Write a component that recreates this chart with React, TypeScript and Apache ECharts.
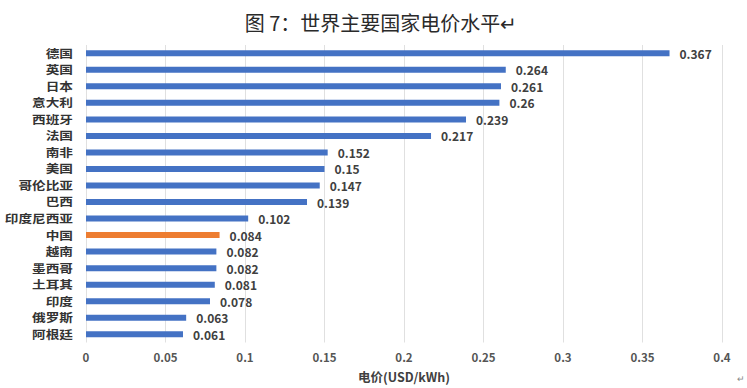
import React, { useEffect, useRef } from "react";
import * as echarts from "echarts";

const categories = ["德国", "英国", "日本", "意大利", "西班牙", "法国", "南非", "美国", "哥伦比亚", "巴西", "印度尼西亚", "中国", "越南", "墨西哥", "土耳其", "印度", "俄罗斯", "阿根廷"];
const values = [0.367, 0.264, 0.261, 0.26, 0.239, 0.217, 0.152, 0.15, 0.147, 0.139, 0.102, 0.084, 0.082, 0.082, 0.081, 0.078, 0.063, 0.061];
const highlight = "中国";
const xTicks = [0, 0.05, 0.1, 0.15, 0.2, 0.25, 0.3, 0.35, 0.4];

export default function App() {
  const ref = useRef<HTMLDivElement>(null);
  useEffect(() => {
    const chart = echarts.init(ref.current!, null, { renderer: "svg" });
    const font = "'Noto Sans CJK SC', 'Noto Sans', sans-serif";
    const gridLeft = 86;
    chart.setOption({
      animation: false,
      backgroundColor: "#ffffff",
      title: {
        text: "图 7：世界主要国家电价水平↵",
        left: 376,
        top: 7,
        textAlign: "center",
        textStyle: { fontFamily: font, fontSize: 20, fontWeight: "normal", color: "#2a2a2a" },
      },
      grid: { left: gridLeft, right: 25, top: 45, bottom: 45 },
      xAxis: {
        type: "value",
        min: 0,
        max: 0.4,
        interval: 0.05,
        name: "电价(USD/kWh)",
        nameLocation: "middle",
        nameGap: 28,
        nameTextStyle: { fontFamily: font, fontSize: 12.5, fontWeight: "bold", color: "#404040" },
        axisLine: { show: false },
        axisTick: { show: false },
        axisLabel: {
          fontFamily: font,
          fontSize: 11.5,
          fontWeight: "bold",
          color: "#555",
          margin: 9,
          formatter: (v: number) => {
            const m = xTicks.find((t) => Math.abs(t - v) < 1e-9);
            return String(m ?? v);
          },
        },
        splitLine: { show: true, lineStyle: { color: "#e0e0e0", width: 1 } },
      },
      yAxis: {
        type: "category",
        data: categories,
        inverse: true,
        axisLine: { show: false },
        axisTick: { show: false },
        axisLabel: { show: false },
      },
      series: [
        {
          type: "bar",
          barWidth: 6,
          data: values.map((v, i) => ({
            value: v,
            itemStyle: { color: categories[i] === highlight ? "#ED7D31" : "#4472C4" },
          })),
          label: {
            show: true,
            position: "right",
            distance: 10,
            fontFamily: font,
            fontSize: 12,
            fontWeight: "bold",
            color: "#404040",
            formatter: (p: any) => String(p.value),
          },
        },
      ],
    });
    // category labels, placed with the chart's own y scale, slightly widened like the reference
    const labelGraphics = categories.map((c) => {
      const y = chart.convertToPixel({ yAxisIndex: 0 }, c) as number;
      return {
        type: "text",
        x: gridLeft - 13,
        y,
        scaleX: 1.22,
        style: {
          text: c,
          x: 0,
          y: 0,
          align: "right",
          verticalAlign: "middle",
          fontFamily: font,
          fontSize: 11.2,
          fontWeight: "bold",
          fill: "#333",
        },
      };
    });
    chart.setOption({
      graphic: [
        ...labelGraphics,
        { type: "text", left: 737, top: 374, style: { text: "↵", fontSize: 9, fill: "#888" } },
      ],
    });
    return () => chart.dispose();
  }, []);
  return (
    <div
      ref={ref}
      style={{ position: "absolute", left: 0, top: 0, width: 747, height: 388 }}
    />
  );
}
